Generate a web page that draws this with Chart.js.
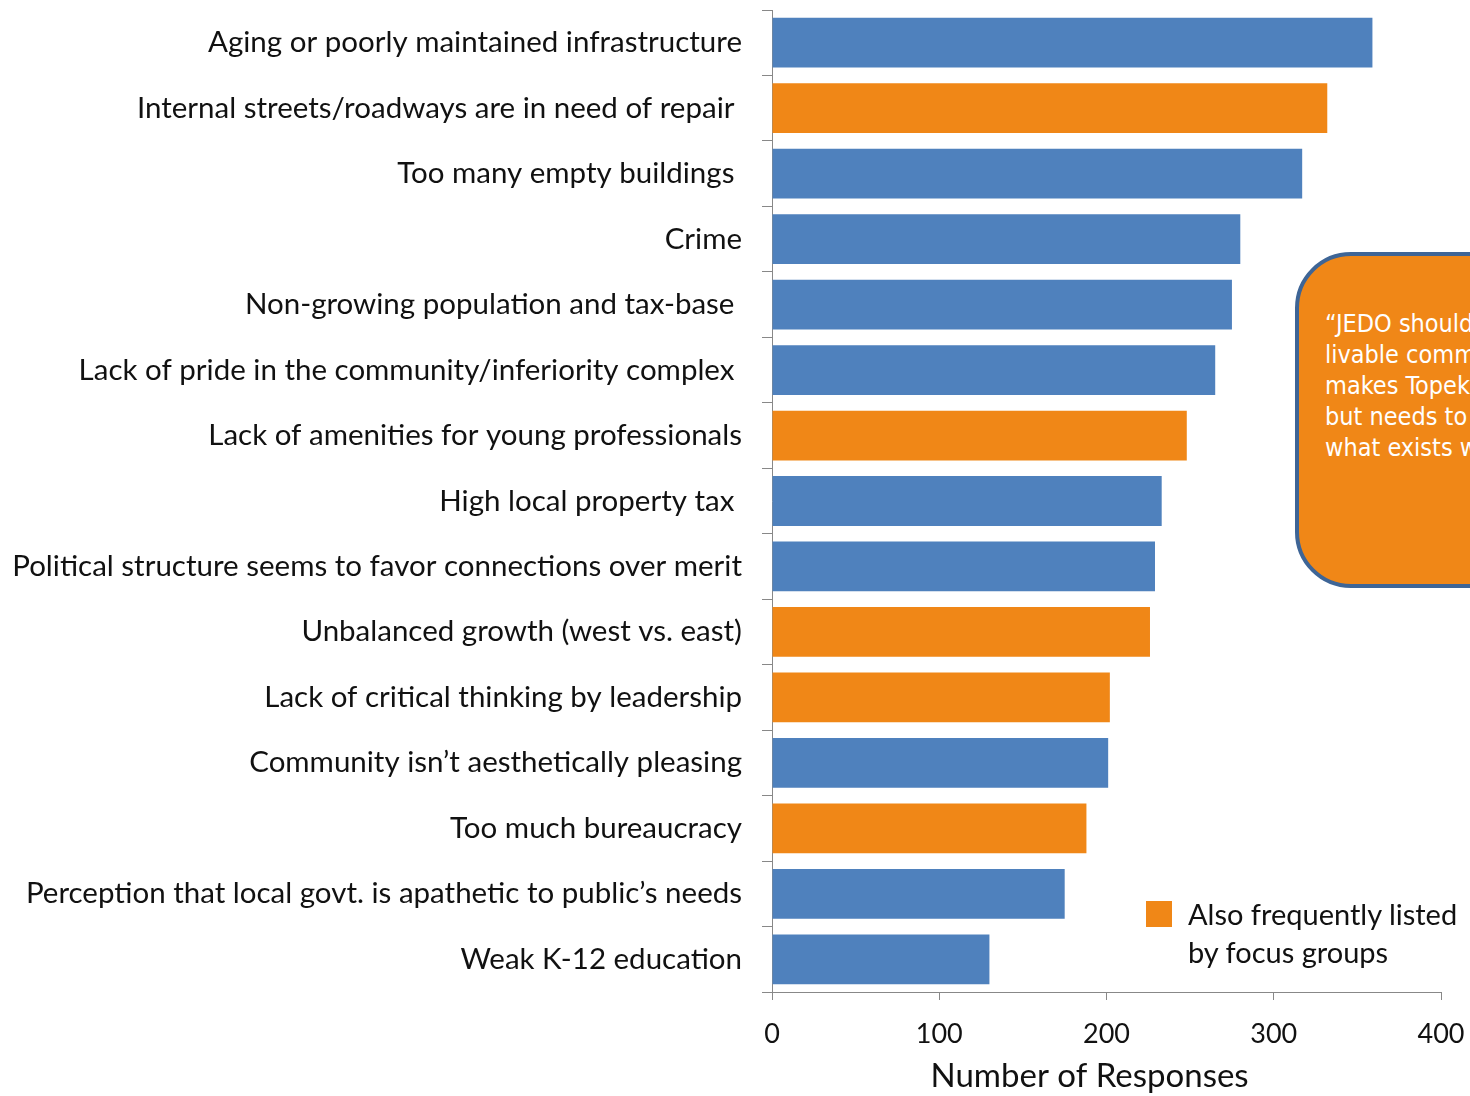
<!DOCTYPE html>
<html>
<head>
<meta charset="utf-8">
<script src="https://cdn.jsdelivr.net/npm/chart.js@4"></script>
<style>
  html, body { margin: 0; padding: 0; background: #fff; overflow: hidden; }
  #wrap { position: relative; width: 1470px; height: 1096px; }
  #callout {
    position: absolute; left: 1295px; top: 252px; width: 260px; height: 328px;
    background: #F08717; border: 4px solid #3E6596; border-radius: 56px;
    box-sizing: content-box; color: #fff;
    font-family: "DejaVu Sans Condensed", Roboto, sans-serif; font-size: 25px;
    line-height: 31px; white-space: nowrap;
  }
  #callout div { position: absolute; left: 26px; top: 52px; }
  #legend {
    position: absolute; left: 1146px; top: 898px; font-family: Lato, sans-serif;
    font-size: 29px; line-height: 38px; color: #111;
  }
  #legend .sw { position: absolute; left: 0; top: 3px; width: 26px; height: 26px; background: #F08717; }
  #legend .tx { position: absolute; left: 42px; top: -3px; white-space: nowrap; }
</style>
</head>
<body>
<div id="wrap">
  <canvas id="chart" width="1470" height="1096"></canvas>
  <div id="callout"><div>“JEDO should<br>livable comm<br>makes Topek<br>but needs to<br>what exists w</div></div>
  <div id="legend"><span class="sw"></span><span class="tx">Also frequently listed<br>by focus groups</span></div>
</div>
<script>
// Survey responses, top to bottom
const categories = [
  "Aging or poorly maintained infrastructure",
  "Internal streets/roadways are in need of repair ",
  "Too many empty buildings ",
  "Crime",
  "Non-growing population and tax-base ",
  "Lack of pride in the community/inferiority complex ",
  "Lack of amenities for young professionals",
  "High local property tax ",
  "Political structure seems to favor connections over merit",
  "Unbalanced growth (west vs. east)",
  "Lack of critical thinking by leadership",
  "Community isn’t aesthetically pleasing",
  "Too much bureaucracy",
  "Perception that local govt. is apathetic to public’s needs",
  "Weak K-12 education"
];
const responses = [359, 332, 317, 280, 275, 265, 248, 233, 229, 226, 202, 201, 188, 175, 130];
const focusGroup = [false, true, false, false, false, false, true, false, false, true, true, false, true, false, false];
const xTicks = [0, 100, 200, 300, 400];

const BLUE = "#4F81BD";
const ORANGE = "#F08717";

new Chart(document.getElementById("chart"), {
  type: "bar",
  data: {
    labels: categories,
    datasets: [{
      data: responses,
      backgroundColor: focusGroup.map(f => f ? ORANGE : BLUE),
      categoryPercentage: 0.76,
      barPercentage: 1.0,
      borderWidth: 0
    }]
  },
  options: {
    indexAxis: "y",
    responsive: false,
    animation: false,
    layout: { padding: { top: 10, right: 29, bottom: 0, left: 0 } },
    plugins: { legend: { display: false }, tooltip: { enabled: false } },
    scales: {
      y: {
        grid: { drawOnChartArea: false, tickLength: 10, color: "#888", offset: true },
        border: { color: "#888", width: 1 },
        ticks: { padding: 20, color: "#111", font: { family: "Lato", size: 29.5 } },
        afterFit: s => { s.width = 772; s.paddingTop = 0; s.paddingBottom = 0; }
      },
      x: {
        min: 0, max: 400,
        afterBuildTicks: s => { s.ticks = xTicks.map(v => ({ value: v })); },
        grid: { drawOnChartArea: false, tickLength: 8, color: "#888" },
        border: { color: "#888", width: 1 },
        ticks: { padding: 18, color: "#111", font: { family: "Lato", size: 27 } },
        title: {
          display: true, text: "Number of Responses    ", color: "#111",
          font: { family: "Lato", size: 33 }, padding: { top: 16, bottom: 0 }
        },
        afterFit: s => { s.height = 104; s.paddingLeft = 0; s.paddingRight = 0; }
      }
    }
  }
});
</script>
</body>
</html>
